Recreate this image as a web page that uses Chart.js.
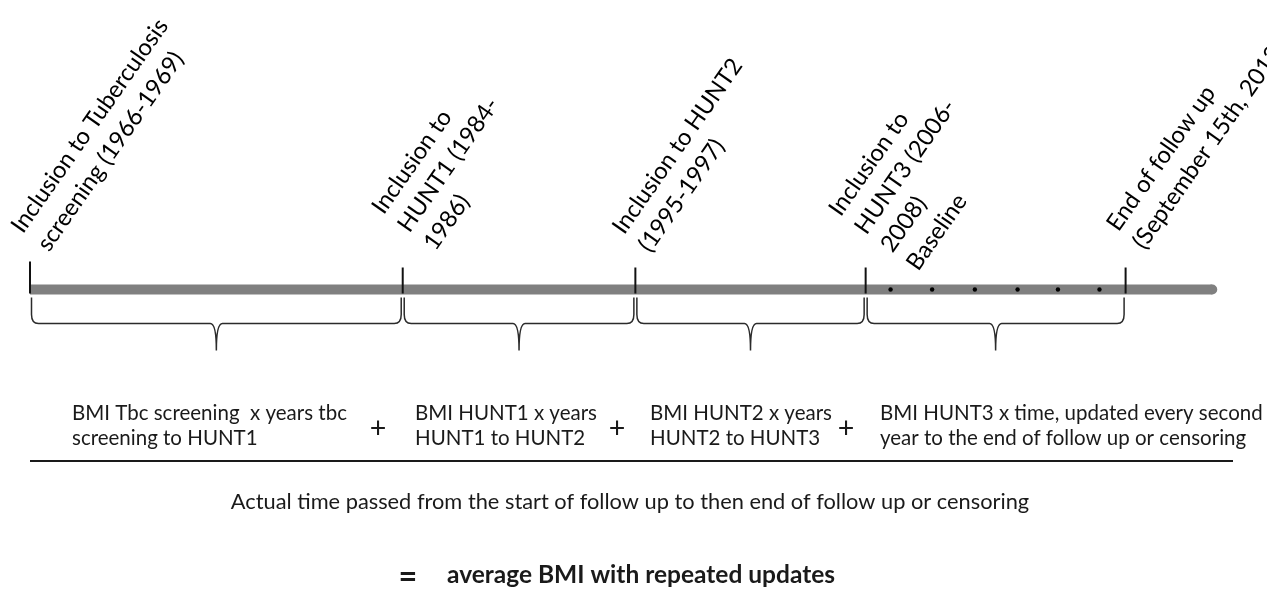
<!DOCTYPE html>
<html>
<head>
<meta charset="utf-8">
<script src="https://cdn.jsdelivr.net/npm/chart.js@4.4.1/dist/chart.umd.min.js"></script>
<style>
	html, body { margin: 0; padding: 0; background: #fff; overflow: hidden; }
</style>
</head>
<body>
<canvas id="timelineChart" width="1267" height="601"></canvas>
<script>
// schematic position along the follow-up line (0 = start, 100 = drawn end of line)
const eventPos = [0, 31.4, 51.0, 70.4, 92.3];
const eventLabels = [
	['Inclusion to Tuberculosis', 'screening (1966-1969)'],
	['Inclusion to', 'HUNT1 (1984-', '1986)'],
	['Inclusion to HUNT2', '(1995-1997)'],
	['Inclusion to', 'HUNT3 (2006-', '2008)', 'Baseline'],
	['End of follow up', '(September 15th, 2013)']
];
const updatePos = [72.5, 76.0, 79.6, 83.2, 86.6, 90.1];
const lineEnd = 99.6;
const segmentTexts = [
	['BMI Tbc screening  x years tbc', 'screening to HUNT1'],
	['BMI HUNT1 x years', 'HUNT1 to HUNT2'],
	['BMI HUNT2 x years', 'HUNT2 to HUNT3'],
	['BMI HUNT3 x time, updated every second', 'year to the end of follow up or censoring']
];
const denominatorText = 'Actual time passed from the start of follow up to then end of follow up or censoring';
const resultText = 'average BMI with repeated updates';

// label anchors relative to each tick (baseline start of first line)
const labelOffsets = [[-7, -55], [-19, -74], [-11, -54], [-25, -72], [-7, -57]];
const segmentTextX = [72, 415, 650, 880];
const plusX = [378, 617, 846];

const FONT = 'Lato, "Open Sans", sans-serif';
let sizeRatio = 1;

function fontPx(calibriPx) {
	return (calibriPx * sizeRatio).toFixed(1) + 'px ' + FONT;
}

const diagram = {
	id: 'diagram',
	afterDraw(chart) {
		const { ctx, scales: { x, y } } = chart;
		const y0 = y.getPixelForValue(0);
		const px = eventPos.map(v => x.getPixelForValue(v));

		ctx.save();
		// Calibri-like metrics -> Lato size
		ctx.font = '100px ' + FONT;
		sizeRatio = 1026 / ctx.measureText('Inclusion to Tuberculosis').width;

		// event ticks
		ctx.strokeStyle = '#111';
		ctx.lineWidth = 2;
		px.forEach((p, i) => {
			ctx.beginPath();
			ctx.moveTo(p, y0 - (i === 0 ? 28 : 22));
			ctx.lineTo(p, y0 + 4);
			ctx.stroke();
		});

		// braces under each interval
		ctx.strokeStyle = '#2b2b2b';
		ctx.lineWidth = 1.5;
		const top = y0 + 8, hy = y0 + 34, tip = y0 + 61;
		for (let i = 0; i < px.length - 1; i++) {
			const a = px[i] + 1.5, b = px[i + 1] - 1.5, m = (a + b) / 2;
			ctx.beginPath();
			ctx.moveTo(a, top);
			ctx.lineTo(a, hy - 9);
			ctx.quadraticCurveTo(a, hy, a + 7, hy);
			ctx.lineTo(m - 6, hy);
			ctx.quadraticCurveTo(m, hy, m, tip);
			ctx.quadraticCurveTo(m, hy, m + 6, hy);
			ctx.lineTo(b - 7, hy);
			ctx.quadraticCurveTo(b, hy, b, hy - 9);
			ctx.lineTo(b, top);
			ctx.stroke();
		}

		// rotated event labels
		ctx.fillStyle = '#000';
		ctx.font = fontPx(24.8);
		ctx.textAlign = 'left';
		ctx.textBaseline = 'alphabetic';
		const angle = -55 * Math.PI / 180;
		eventLabels.forEach((lines, i) => {
			ctx.save();
			ctx.translate(px[i] + labelOffsets[i][0], y0 + labelOffsets[i][1]);
			ctx.rotate(angle);
			lines.forEach((t, j) => ctx.fillText(t, 0, j * 31.6));
			ctx.restore();
		});

		// numerator
		ctx.fillStyle = '#1a1a1a';
		ctx.font = fontPx(21.5);
		segmentTexts.forEach((lines, i) => {
			lines.forEach((t, j) => ctx.fillText(t, segmentTextX[i], 420 + j * 25));
		});
		ctx.font = fontPx(30);
		ctx.textAlign = 'center';
		plusX.forEach(p => ctx.fillText('+', p, 438));

		// fraction rule
		ctx.strokeStyle = '#1a1a1a';
		ctx.lineWidth = 2;
		ctx.beginPath();
		ctx.moveTo(30, 461);
		ctx.lineTo(1233, 461);
		ctx.stroke();

		// denominator
		ctx.font = fontPx(22.8);
		ctx.fillText(denominatorText, 630, 509);

		// result
		ctx.font = 'bold ' + fontPx(34);
		ctx.fillText('=', 408, 588);
		ctx.textAlign = 'left';
		ctx.font = 'bold ' + fontPx(25.7);
		ctx.fillText(resultText, 447, 583);
		ctx.restore();
	}
};

new Chart(document.getElementById('timelineChart'), {
	type: 'scatter',
	data: {
		datasets: [
			{
				// follow-up line
				type: 'line',
				data: [{ x: eventPos[0], y: 0 }, { x: lineEnd, y: 0 }],
				borderColor: '#808080',
				borderWidth: 10,
				borderCapStyle: 'butt',
				pointRadius: [0, 5],
				pointBackgroundColor: '#808080',
				pointBorderWidth: 0,
				clip: false,
				order: 2
			},
			{
				// biennial BMI updates
				data: updatePos.map(v => ({ x: v, y: 0 })),
				pointRadius: 2.2,
				backgroundColor: '#000',
				borderWidth: 0,
				order: 1
			}
		]
	},
	options: {
		responsive: false,
		animation: false,
		layout: { padding: { left: 30, right: 50, top: 0, bottom: 27 } },
		plugins: { legend: { display: false }, tooltip: { enabled: false } },
		scales: {
			x: { type: 'linear', min: 0, max: 100, display: false },
			y: { min: -1, max: 1, display: false }
		}
	},
	plugins: [diagram]
});
</script>
</body>
</html>
